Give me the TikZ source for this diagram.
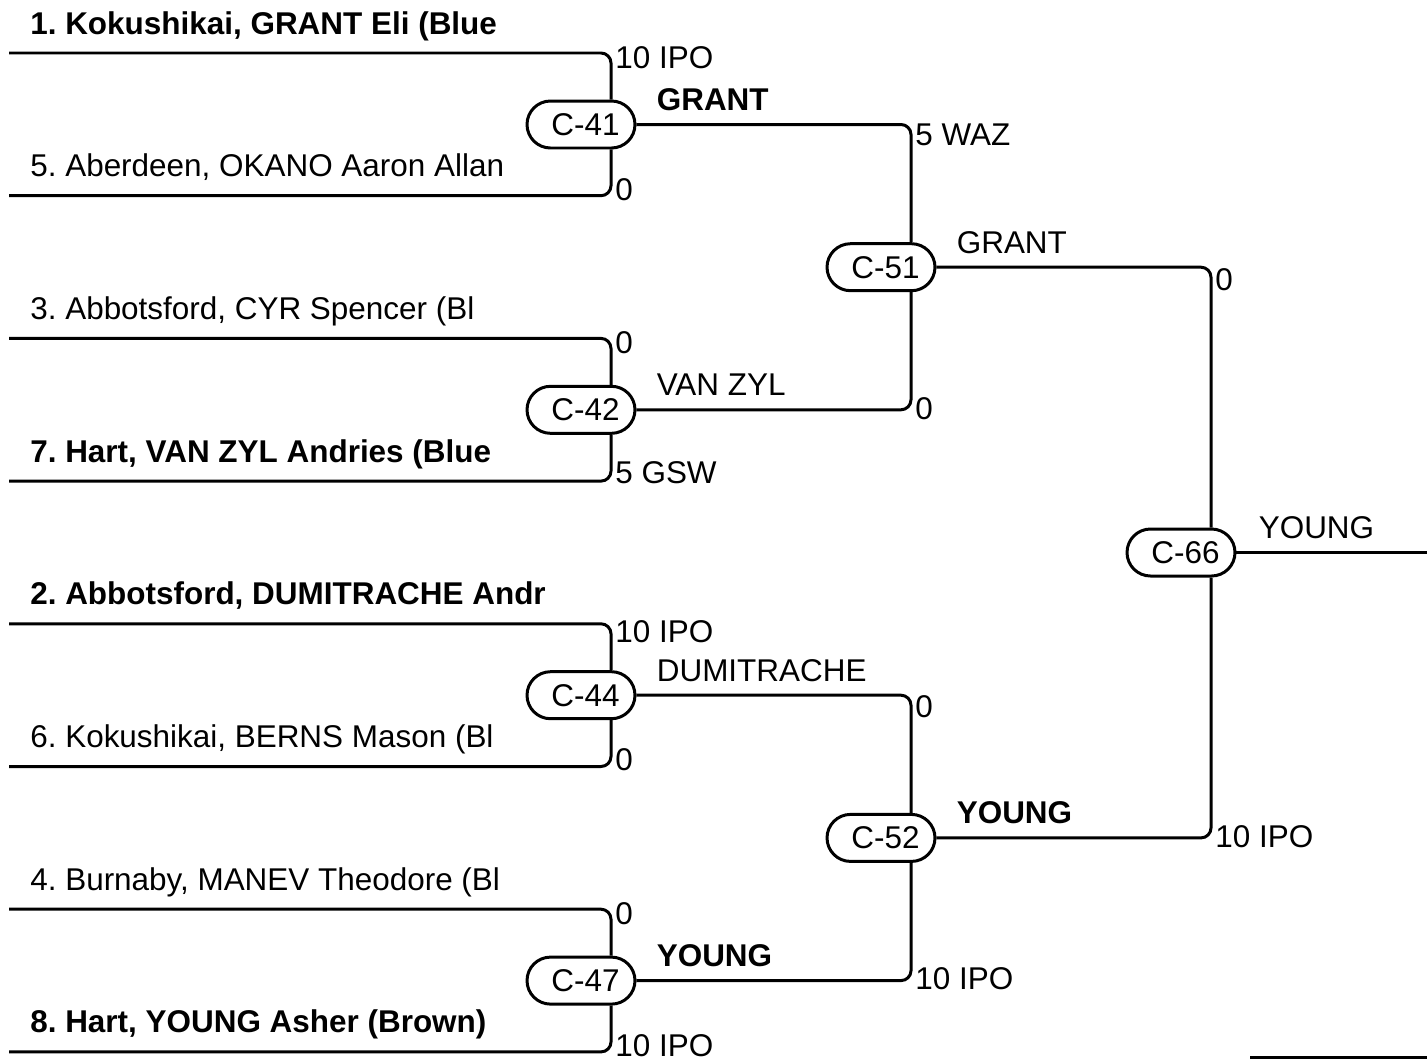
\documentclass[tikz,border=0pt]{standalone}
\usepackage{fontspec}
\setmainfont{Liberation Sans}
\usetikzlibrary{shapes.misc,positioning,calc}

\newcommand{\bracketfont}{\fontsize{17.9pt}{21pt}\selectfont}
\frenchspacing

\tikzset{
  wire/.style={line width=1.7pt, rounded corners=5.7pt},
  match/.style={rounded rectangle, draw, fill=white, line width=1.7pt,
    minimum width=2.16cm, minimum height=0.94cm, inner sep=0pt, font=\bracketfont,
    execute at begin node=\hspace*{0.18cm}},
  entry/.style={anchor=base west, inner sep=0pt},
  score/.style={anchor=west, inner sep=0pt, font=\bracketfont},
  win/.style={anchor=base west, inner sep=0pt},
}

\begin{document}
\begin{tikzpicture}[x=0.02cm, y=-0.02cm]
\useasboundingbox (0,0) rectangle (1427,1059);

% x of the bracket verticals
\coordinate (r1) at (611,0);
\coordinate (r2) at (911,0);
\coordinate (r3) at (1211,0);

% matches
\node[match] (c41) at (581,124.5) {C-41};
\node[match] (c42) at (581,409.8) {C-42};
\node[match] (c44) at (581,695.2) {C-44};
\node[match] (c47) at (581,980.6) {C-47};
\node[match] (c51) at (881,267.2) {C-51};
\node[match] (c52) at (881,837.9) {C-52};
\node[match] (c66) at (1181,552.5) {C-66};

% competitors
\foreach \n/\y/\f/\txt in {
    1/53/\bfseries/{1. Kokushikai, GRANT Eli (Blue},
    5/195.7/\mdseries/{5. Aberdeen, OKANO Aaron Allan},
    3/338.4/\mdseries/{3. Abbotsford, CYR Spencer (Bl},
    7/481.1/\bfseries/{7. Hart, VAN ZYL Andries (Blue},
    2/623.8/\bfseries/{2. Abbotsford, DUMITRACHE Andr},
    6/766.5/\mdseries/{6. Kokushikai, BERNS Mason (Bl},
    4/909.2/\mdseries/{4. Burnaby, MANEV Theodore (Bl},
    8/1051.9/\bfseries/{8. Hart, YOUNG Asher (Brown)}}
{
  \coordinate (l\n) at (9,\y);
  \node[entry, font=\bracketfont\f] (p\n) at (30,\y-19) {\txt};
}

% first round
\foreach \a/\b/\m in {1/5/41, 3/7/42, 2/6/44, 4/8/47}
{
  \draw[wire] (l\a) -| (c\m.north -| r1);
  \draw[wire] (l\b) -| (c\m.south -| r1);
}

% later rounds
\draw[wire] (c41.east) -| (c51.north -| r2);
\draw[wire] (c42.east) -| (c51.south -| r2);
\draw[wire] (c44.east) -| (c52.north -| r2);
\draw[wire] (c47.east) -| (c52.south -| r2);
\draw[wire] (c51.east) -| (c66.north -| r3);
\draw[wire] (c52.east) -| (c66.south -| r3);
\coordinate (fin) at (1427,552.5);
\draw[wire] (c66.east) -- (fin);
\coordinate (t1) at (1250,1057.5);
\coordinate (t2) at (1427,1057.5);
\draw[wire] (t1) -- (t2);

% winners
\node[win, font=\bracketfont\bfseries] (w41) at ($(c41.east)+(20,-14)$) {GRANT};
\node[win, font=\bracketfont] (w42) at ($(c42.east)+(20,-14)$) {VAN ZYL};
\node[win, font=\bracketfont] (w44) at ($(c44.east)+(20,-14)$) {DUMITRACHE};
\node[win, font=\bracketfont\bfseries] (w47) at ($(c47.east)+(20,-14)$) {YOUNG};
\node[win, font=\bracketfont] (w51) at ($(c51.east)+(20,-14)$) {GRANT};
\node[win, font=\bracketfont\bfseries] (w52) at ($(c52.east)+(20,-14)$) {YOUNG};
\node[win, font=\bracketfont] (w66) at ($(c66.east)+(22,-14)$) {YOUNG};

% scores
\node[score] (s41a) at (615,58) {10 IPO};
\node[score] (s41b) at (615,190) {0};
\node[score] (s42a) at (615,343) {0};
\node[score] (s42b) at (615,473) {5 GSW};
\node[score] (s44a) at (615,632) {10 IPO};
\node[score] (s44b) at (615,760) {0};
\node[score] (s47a) at (615,914) {0};
\node[score] (s47b) at (615,1046) {10 IPO};
\node[score] (s51a) at (915,135) {5 WAZ};
\node[score] (s51b) at (915,409) {0};
\node[score] (s52a) at (915,707) {0};
\node[score] (s52b) at (915,979) {10 IPO};
\node[score] (s66a) at (1215,280) {0};
\node[score] (s66b) at (1215,837) {10 IPO};
\end{tikzpicture}
\end{document}
